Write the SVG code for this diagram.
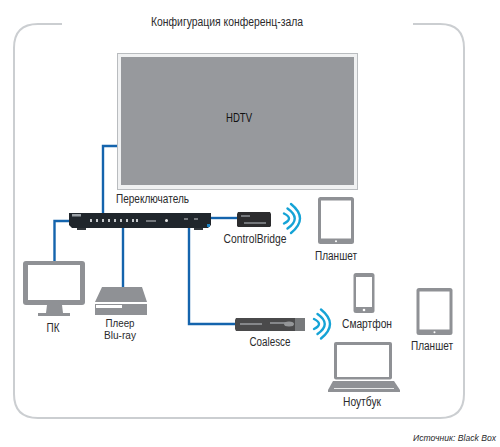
<svg xmlns="http://www.w3.org/2000/svg" width="500" height="447" viewBox="0 0 500 447">
<style>
text{font-family:"Liberation Sans",Arial,sans-serif;font-size:12.5px;fill:#2a2a2c;text-anchor:middle}
.g{fill:#8f9195}
.w{fill:#fff}
.c{fill:none;stroke:#1464ad;stroke-width:2.4}
.f{fill:none;stroke:#cbced1;stroke-width:2}
.a{fill:none;stroke:#15a3d6;stroke-width:2.4;stroke-linecap:round}
</style>
<defs>
<g id="wifi"><path class="a" d="M0 -5Q10 0 0 5"/><path class="a" d="M3.500 -10Q18 0 3.500 10"/><path class="a" d="M7 -14.500Q25 0 7 14.500"/></g>
<g id="tablet"><rect class="g" width="36" height="47" rx="2.500"/><rect class="w" x="3" y="3.500" width="30" height="38"/><circle class="w" cx="18" cy="44.300" r="1"/></g>
</defs>
<path class="f" d="M62 24H38Q14 24 14 48V394Q14 418 38 418H440Q464 418 464 394V48Q464 24 440 24H413"/>
<text x="227" y="26" textLength="152" lengthAdjust="spacingAndGlyphs">Конфигурация конференц-зала</text>
<g id="connectors">
<path class="c" d="M118 146H103V214"/>
<path class="c" d="M71 221H54.500V262"/>
<path class="c" d="M123 227V288"/>
<path class="c" d="M189 227V324H236"/>
<path class="c" d="M210 218H238"/>
</g>
<g id="hdtv">
<rect x="117.500" y="53.500" width="240" height="136" fill="#f0f1f2" stroke="#b9bcbf"/>
<rect x="121" y="57" width="233" height="128" fill="#97999d"/>
<text x="239" y="122" style="fill:#111" textLength="26" lengthAdjust="spacingAndGlyphs">HDTV</text>
</g>
<g id="switch">
<text x="152.500" y="203" textLength="73" lengthAdjust="spacingAndGlyphs">Переключатель</text>
<path d="M69 213H211V225L208 228H72L69 225Z" fill="#20262c"/>
<rect x="77" y="228" width="9" height="2" fill="#33383d"/><rect x="194" y="228" width="9" height="2" fill="#33383d"/>
<rect x="72" y="214" width="9" height="2.500" fill="#9aa0a6"/>
<path d="M91 219v3M97 219v3M103 219v3M109 219v3M115 219v3M121 219v3M127 219v3M133 219v3M137 219v3" stroke="#c5c8cb" stroke-width="2"/>
<path d="M146 221h10M184 219h4M194 219h4" stroke="#8f9397" stroke-width="1.500"/>
<circle cx="166.500" cy="220.500" r="1.500" fill="#e8e8e8"/>
<rect x="207" y="224" width="3" height="3" fill="#1d83c4"/>
</g>
<g id="controlbridge">
<path d="M238 212H270L271 214V226L270 227H238L237 226V214Z" fill="#2c2c2e"/>
<path d="M241 216H250M244 223H266" stroke="#8c9095" stroke-width="1.500"/>
<text x="255" y="243" textLength="63" lengthAdjust="spacingAndGlyphs">ControlBridge</text>
<use href="#wifi" x="284" y="218.500"/>
</g>
<g id="tablet1">
<use href="#tablet" x="318" y="197"/>
<text x="336" y="260" textLength="42" lengthAdjust="spacingAndGlyphs">Планшет</text>
</g>
<g id="pc">
<rect class="g" x="23" y="261" width="62" height="44" rx="3"/>
<rect class="w" x="28" y="265" width="52" height="35"/>
<path class="g" d="M47 305H62L63 313H70V316H38V313H46Z"/>
<text x="53" y="332" textLength="13" lengthAdjust="spacingAndGlyphs">ПК</text>
</g>
<g id="bluray">
<path class="g" d="M102 287H142L147 302H95Z"/>
<rect class="g" x="95" y="304" width="52" height="11"/>
<rect class="w" x="96" y="305" width="26" height="3"/>
<text x="120" y="326.500" style="font-size:10.500px" textLength="29" lengthAdjust="spacingAndGlyphs">Плеер</text>
<text x="120" y="338.500" style="font-size:10.500px" textLength="32" lengthAdjust="spacingAndGlyphs">Blu-ray</text>
</g>
<g id="coalesce">
<path d="M236 318H304L305 320V329L304 331H236L235 329V320Z" fill="#4a4a4b"/>
<rect x="295" y="318" width="10" height="13" fill="#77797b"/>
<path d="M240 324H262M270 323H286" stroke="#85878a" stroke-width="2"/>
<ellipse cx="289" cy="324" rx="5" ry="2.500" fill="#949698"/>
<text x="270" y="346" textLength="41" lengthAdjust="spacingAndGlyphs">Coalesce</text>
<use href="#wifi" x="314" y="324"/>
</g>
<g id="smartphone">
<rect class="g" x="353.500" y="273" width="21" height="40" rx="2.500"/>
<rect class="w" x="356" y="277" width="16" height="30"/>
<circle class="w" cx="364" cy="310" r="1.300"/>
<text x="367" y="328" textLength="50" lengthAdjust="spacingAndGlyphs">Смартфон</text>
</g>
<g id="tablet2">
<use href="#tablet" x="416.500" y="288"/>
<text x="432" y="350" textLength="42" lengthAdjust="spacingAndGlyphs">Планшет</text>
</g>
<g id="laptop">
<rect class="g" x="334" y="342" width="58" height="37.500" rx="2"/>
<rect class="w" x="337" y="345" width="52" height="32"/>
<path class="g" d="M333 381H394L400 390V392H328V390Z"/>
<path d="M334 388.500H394" stroke="#fff" stroke-width=".8"/>
<text x="362" y="406" textLength="38" lengthAdjust="spacingAndGlyphs">Ноутбук</text>
</g>
<text x="496" y="441" font-style="italic" style="font-size:8.600px;text-anchor:end">Источник: Black Box</text>
</svg>
